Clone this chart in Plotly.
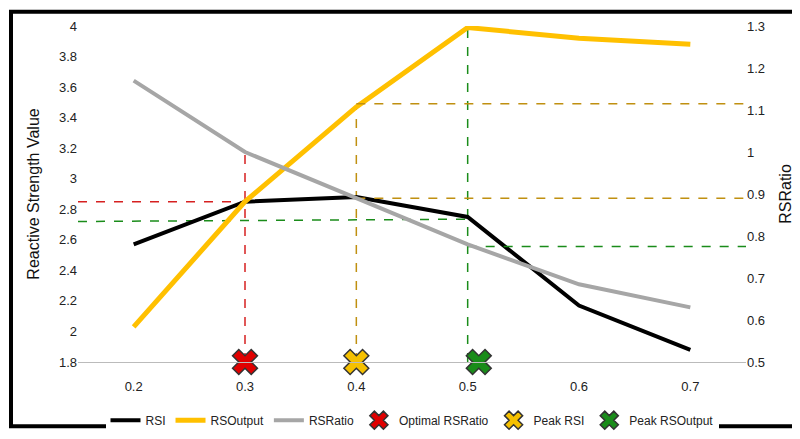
import plotly.graph_objects as go

x = [0.2, 0.3, 0.4, 0.5, 0.6, 0.7]
rsi = [2.57, 2.85, 2.88, 2.75, 2.17, 1.88]
rsout = [2.03, 2.85, 3.47, 3.99, 3.92, 3.88]
rsratio = [1.17, 1.0, 0.89, 0.78, 0.685, 0.63]
mk_x = [0.3, 0.4, 0.51]
mk_names = ["Optimal RSRatio", "Peak RSI", "Peak RSOutput"]
mk_colors = ["#e00000", "#f5c000", "#1a8c1a"]

fig = go.Figure()
L, R = 0.15, 0.75
dash = dict(dash="dash", width=1.5)
def seg(xs, ys, c, yaxis="y"):
    fig.add_trace(go.Scatter(x=xs, y=ys, mode="lines", line=dict(color=c, **dash),
                             showlegend=False, hoverinfo="skip", yaxis=yaxis))
seg([L, 0.3], [2.85, 2.85], "#d62020")
seg([0.3, 0.3], [1.8, 3.2], "#d62020")
seg([0.4, 0.4], [1.8, 3.47], "#c09010")
seg([0.4, R], [1.115, 1.115], "#c09010", "y2")
seg([0.4, R], [0.89, 0.89], "#c09010", "y2")
seg([0.5, 0.5], [1.8, 4.0], "#1a8c1a")
seg([L, 0.5], [2.72, 2.735], "#1a8c1a")
seg([0.5, R], [0.775, 0.775], "#1a8c1a", "y2")

fig.add_trace(go.Scatter(x=x, y=rsi, name="RSI", mode="lines", line=dict(color="black", width=4)))
fig.add_trace(go.Scatter(x=x, y=rsout, name="RSOutput", mode="lines", line=dict(color="#ffc000", width=5)))
fig.add_trace(go.Scatter(x=x, y=rsratio, name="RSRatio", mode="lines", line=dict(color="#a6a6a6", width=4), yaxis="y2"))
for xx, n, c in zip(mk_x, mk_names, mk_colors):
    fig.add_trace(go.Scatter(x=[xx], y=[1.8], name=n, mode="markers", cliponaxis=False,
                             marker=dict(symbol="x", size=22, color=c, line=dict(color="#333", width=1.5))))

ml, mr, mt, mb = 70, 62, 18, 70
pw, ph = 800 - ml - mr, 439 - mt - mb
fig.update_layout(
    width=800, height=439, paper_bgcolor="white", plot_bgcolor="white",
    margin=dict(l=ml, r=mr, t=mt, b=mb),
    font=dict(family="Liberation Sans, Arial", size=13, color="#222"),
    xaxis=dict(range=[L, R], tickvals=x, showgrid=False, zeroline=False,
               showline=True, linecolor="#bbb", ticks="outside", ticklen=12, tickcolor="rgba(0,0,0,0)"),
    yaxis=dict(range=[1.8, 4.0], dtick=0.2, showgrid=False, zeroline=False,
               title=dict(text="Reactive Strength Value", font=dict(size=16, color="#111")), tickformat="~g"),
    yaxis2=dict(range=[0.5, 1.3], dtick=0.1, overlaying="y", side="right", showgrid=False,
                zeroline=False, title=dict(text="RSRatio", font=dict(size=16, color="#111")), tickformat="~g"),
    legend=dict(orientation="h", x=0.5, xanchor="center", y=-0.13, yanchor="top", font=dict(size=12)),
    shapes=[dict(type="rect", xref="paper", yref="paper",
                 x0=-(ml - 3) / pw, x1=1 + (mr - 3) / pw, y0=-(mb - 3) / ph, y1=1 + (mt - 3) / ph,
                 line=dict(color="black", width=4))],
)
fig.write_html("out.html")
